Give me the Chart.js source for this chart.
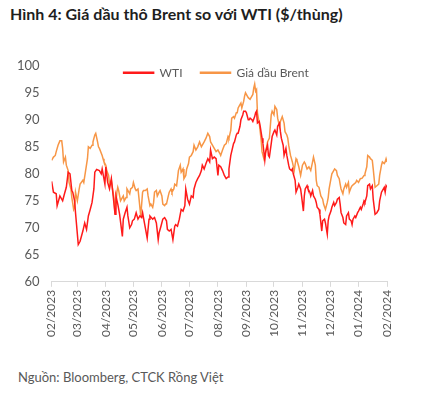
<!DOCTYPE html>
<html>
<head>
  <meta charset="utf-8">
  <title>Brent vs WTI</title>
  <script src="https://cdn.jsdelivr.net/npm/chart.js"></script>
  <style>
    body { margin: 0; background: #fff; font-family: Lato, sans-serif; width: 429px; height: 398px; position: relative; overflow: hidden; }
    .title { position: absolute; left: 10px; top: 4px; font-size: 16px; font-weight: bold; color: #1e1e1e; white-space: nowrap; }
    .source { position: absolute; left: 18px; top: 369px; font-size: 13px; color: #595959; white-space: nowrap; }
    .wrap { position: absolute; left: 0; top: 46px; width: 429px; height: 296px; }
  </style>
</head>
<body>
  <div class="title">Hình 4: Giá dầu thô Brent so với WTI ($/thùng)</div>
  <div class="wrap"><canvas id="oilChart"></canvas></div>
  <div class="source">Nguồn: Bloomberg, CTCK Rồng Việt</div>

  <script>
    // month ticks (days after 01/02/2023)
    const monthDays = [0, 28, 59, 89, 120, 150, 181, 212, 242, 273, 303, 334, 365];
    const monthLabels = ['02/2023', '03/2023', '04/2023', '05/2023', '06/2023', '07/2023', '08/2023',
      '09/2023', '10/2023', '11/2023', '12/2023', '01/2024', '02/2024'];

    // WTI, $/barrel
    const wtiDays = [0, 2, 5, 6, 9, 12, 14, 16, 18, 20, 22, 23, 25, 26, 29, 31, 34, 36, 38, 40, 42, 44, 46, 47, 49,
      52, 54, 55, 58, 59, 61, 63, 65, 67, 69, 70, 72, 74, 77, 78, 80, 82, 83, 85, 87, 88, 90, 92, 94, 96, 98, 99,
      101, 104, 106, 107, 110, 112, 114, 116, 117, 119, 121, 123, 125, 126, 128, 130, 132, 134, 135, 137, 139,
      141, 143, 145, 146, 148, 150, 152, 154, 155, 157, 159, 161, 163, 164, 166, 168, 170, 172, 173, 175, 177,
      179, 181, 182, 184, 186, 188, 190, 192, 193, 195, 198, 199, 201, 202, 203, 205, 206, 208, 209, 211, 212,
      214, 215, 216, 218, 219, 221, 222, 223, 224, 226, 227, 229, 230, 232, 233, 235, 236, 237, 239, 240, 242,
      243, 245, 246, 248, 249, 250, 252, 253, 255, 256, 258, 259, 261, 262, 263, 265, 266, 268, 269, 271, 272,
      274, 275, 276, 278, 279, 281, 282, 284, 285, 287, 288, 289, 291, 292, 294, 295, 297, 298, 300, 301, 302,
      304, 305, 307, 308, 310, 311, 313, 314, 315, 317, 318, 320, 321, 323, 324, 326, 327, 328, 330, 331, 333,
      334, 336, 337, 339, 340, 341, 343, 344, 346, 347, 349, 350, 352, 353, 354, 356, 357, 359, 360, 362, 363,
      364, 365];
    const wti = [78.6, 76.6, 76.3, 74.1, 75.9, 75.0, 76.3, 77.5, 80.3, 80.0, 76.9, 76.6, 75.0, 72.8, 66.9, 67.5,
      69.4, 70.9, 69.7, 72.2, 73.4, 74.7, 77.2, 80.3, 80.8, 80.6, 80.0, 80.9, 78.1, 81.3, 78.4, 77.2, 79.1, 75.9,
      72.5, 75.9, 74.4, 72.5, 68.4, 71.6, 72.8, 73.8, 72.2, 70.0, 70.6, 71.3, 71.6, 72.8, 71.6, 72.2, 71.9, 72.8,
      70.9, 68.1, 71.6, 72.2, 71.6, 71.9, 70.9, 67.8, 69.1, 70.3, 71.6, 71.9, 71.3, 69.7, 69.4, 69.7, 67.8, 70.3,
      70.6, 70.3, 71.6, 73.4, 73.1, 74.1, 77.2, 75.3, 74.4, 75.9, 75.6, 77.2, 78.4, 79.1, 79.7, 80.6, 81.6, 80.9,
      81.9, 82.8, 82.2, 84.4, 82.8, 83.1, 82.8, 79.7, 81.6, 81.3, 80.6, 79.7, 79.1, 79.4, 80.9, 83.4, 85.6, 85.9,
      87.2, 87.5, 87.5, 88.8, 90.0, 90.9, 91.6, 91.6, 91.3, 90.0, 90.0, 90.3, 90.0, 89.7, 90.6, 91.3, 91.6, 89.4,
      89.7, 88.8, 86.6, 85.6, 82.5, 84.1, 85.3, 83.4, 83.1, 85.6, 86.9, 87.8, 88.1, 87.2, 88.8, 89.4, 87.8, 86.6,
      85.3, 83.4, 84.7, 83.4, 81.6, 80.9, 80.6, 80.9, 80.0, 78.8, 76.6, 77.5, 78.1, 77.2, 75.9, 73.1, 75.9, 77.2,
      77.8, 77.2, 76.6, 75.9, 76.9, 75.9, 75.3, 74.7, 73.8, 73.4, 72.5, 69.4, 71.3, 71.6, 70.9, 68.8, 71.3, 72.2,
      73.1, 73.8, 74.7, 74.1, 74.7, 75.3, 75.6, 74.4, 72.8, 71.9, 70.9, 70.6, 72.2, 72.8, 71.6, 71.3, 70.6, 71.6,
      72.2, 71.9, 72.8, 73.1, 73.8, 73.4, 74.4, 75.0, 74.7, 75.9, 77.8, 78.1, 77.2, 77.8, 75.3, 72.5, 72.5, 72.8,
      73.4, 75.0, 76.6, 76.9, 77.5, 76.6, 77.8, 77.5];

    // Brent, $/barrel
    const brentDays = [0, 2, 4, 5, 7, 9, 11, 12, 13, 15, 16, 18, 19, 21, 22, 24, 25, 26, 28, 30, 31, 34, 35, 37,
      39, 40, 42, 44, 45, 47, 48, 50, 51, 52, 55, 56, 57, 59, 60, 62, 63, 65, 66, 68, 69, 71, 72, 73, 75, 76, 78,
      79, 81, 82, 84, 85, 86, 88, 89, 91, 92, 94, 95, 97, 99, 100, 102, 104, 105, 107, 108, 110, 111, 112, 114,
      115, 117, 118, 120, 121, 123, 124, 125, 127, 128, 130, 131, 133, 134, 136, 137, 138, 140, 141, 143, 144,
      146, 147, 149, 150, 152, 154, 155, 157, 159, 161, 163, 164, 166, 168, 170, 172, 173, 175, 177, 179, 181,
      183, 184, 186, 188, 190, 192, 193, 195, 196, 198, 199, 201, 202, 203, 205, 206, 207, 209, 210, 211, 213,
      214, 216, 217, 219, 220, 221, 222, 223, 224, 226, 228, 229, 231, 233, 235, 237, 239, 240, 242, 243, 245,
      246, 248, 249, 251, 253, 254, 256, 257, 258, 260, 262, 264, 266, 267, 269, 271, 273, 275, 276, 278, 280,
      282, 284, 285, 287, 288, 289, 291, 293, 295, 296, 298, 300, 301, 302, 304, 305, 307, 308, 310, 311, 313,
      314, 315, 317, 318, 320, 321, 323, 324, 326, 327, 329, 331, 332, 334, 336, 338, 340, 341, 343, 344, 346,
      347, 349, 350, 352, 353, 354, 356, 357, 359, 360, 362, 363, 364, 365];
    const brent = [82.5, 83.1, 83.4, 84.1, 85.3, 86.1, 86.1, 84.7, 82.2, 83.1, 81.6, 80.6, 78.4, 77.2, 75.6, 73.4,
      73.8, 76.6, 75.0, 77.2, 78.1, 78.8, 78.4, 80.6, 82.8, 85.0, 84.7, 85.3, 85.9, 87.2, 87.5, 85.9, 85.0, 84.7,
      83.4, 82.8, 82.2, 81.6, 80.6, 79.7, 78.1, 78.8, 77.5, 75.3, 72.5, 76.6, 77.5, 76.9, 75.0, 75.3, 75.9, 75.0,
      75.6, 77.2, 76.6, 76.3, 77.2, 77.5, 78.4, 77.2, 76.9, 77.2, 75.6, 72.2, 76.6, 76.9, 76.9, 77.2, 75.9, 74.1,
      74.4, 73.8, 74.7, 76.6, 76.9, 75.9, 76.6, 76.9, 75.9, 74.4, 74.1, 74.4, 74.4, 75.9, 76.6, 77.2, 76.6, 77.2,
      78.1, 77.8, 79.1, 80.6, 81.6, 80.3, 80.9, 79.1, 79.7, 80.9, 81.9, 83.1, 83.4, 84.1, 85.3, 84.4, 85.0, 85.9,
      85.0, 85.3, 85.9, 86.6, 87.5, 86.9, 85.9, 85.3, 84.7, 84.1, 84.4, 83.8, 83.4, 84.4, 85.3, 85.6, 86.9, 86.6,
      88.1, 90.3, 90.6, 90.3, 91.3, 91.3, 92.2, 92.8, 93.1, 92.2, 93.4, 94.4, 95.0, 94.4, 94.1, 93.8, 94.1, 94.7,
      95.9, 96.6, 95.3, 95.6, 91.3, 89.4, 86.3, 84.1, 82.8, 84.1, 85.9, 86.6, 90.9, 91.6, 90.9, 92.5, 91.9, 90.3,
      88.8, 89.7, 90.6, 89.4, 87.8, 87.2, 86.6, 85.3, 83.4, 82.2, 80.6, 82.8, 82.5, 81.3, 79.7, 81.6, 82.2, 81.9,
      80.9, 81.3, 80.6, 82.2, 83.1, 81.6, 78.8, 77.8, 77.5, 75.9, 75.3, 74.4, 73.4, 74.7, 75.6, 77.2, 79.1, 80.0,
      80.6, 80.9, 80.6, 79.7, 79.1, 78.1, 77.2, 76.3, 77.2, 78.1, 77.5, 78.4, 76.6, 77.5, 77.8, 78.1, 78.4, 78.8,
      78.4, 79.1, 79.2, 79.7, 80.0, 81.3, 83.4, 83.1, 82.8, 82.5, 80.9, 77.5, 77.5, 77.8, 78.1, 79.7, 81.6, 82.2,
      81.9, 82.2, 82.8, 82.2];

    const toPoints = (days, values) => days.map((d, i) => ({ x: d, y: values[i] }));

    // legend sits inside the plot, on top of the lines
    const legendInside = {
      id: 'legendInside',
      beforeInit(chart) {
        const fit = chart.legend.fit;
        chart.legend.fit = function () {
          fit.call(this);
          this.height = 0;
        };
      },
      afterLayout(chart) {
        const lg = chart.legend;
        lg.top = chart.chartArea.top - 17;
        lg.bottom = lg.top + 40;
        lg.left = chart.chartArea.left + 54;
        lg.right = chart.width;
      }
    };

    Chart.defaults.font.family = 'Lato, sans-serif';
    Chart.defaults.color = '#595959';

    new Chart(document.getElementById('oilChart'), {
      type: 'line',
      data: {
        datasets: [
          { label: 'WTI', data: toPoints(wtiDays, wti), borderColor: '#ff1a1a', backgroundColor: '#ff1a1a', borderWidth: 1.5 },
          { label: 'Giá dầu Brent', data: toPoints(brentDays, brent), borderColor: '#f79646', backgroundColor: '#f79646', borderWidth: 1.5 }
        ]
      },
      options: {
        responsive: true,
        maintainAspectRatio: false,
        animation: false,
        layout: { padding: { top: 4, left: 5, right: 42, bottom: 2 } },
        elements: { point: { radius: 0 }, line: { tension: 0 } },
        plugins: {
          tooltip: { enabled: false },
          legend: {
            align: 'start',
            labels: { boxWidth: 30, boxHeight: 1, padding: 18, font: { size: 12 }, color: '#595959' }
          }
        },
        scales: {
          x: {
            type: 'linear',
            min: 0,
            max: 365,
            afterBuildTicks: axis => { axis.ticks = monthDays.map(v => ({ value: v })); },
            ticks: {
              autoSkip: false,
              maxRotation: 90,
              minRotation: 90,
              padding: 3,
              font: { size: 12 },
              callback: v => monthLabels[monthDays.indexOf(v)]
            },
            grid: { drawOnChartArea: false, drawTicks: true, tickLength: 5, color: '#d9d9d9' },
            border: { display: true, color: '#d9d9d9' }
          },
          y: {
            min: 60,
            max: 100,
            ticks: { stepSize: 5, padding: 12, font: { size: 13 } },
            grid: { display: false, drawTicks: false },
            border: { display: false }
          }
        }
      },
      plugins: [legendInside]
    });
  </script>
</body>
</html>
